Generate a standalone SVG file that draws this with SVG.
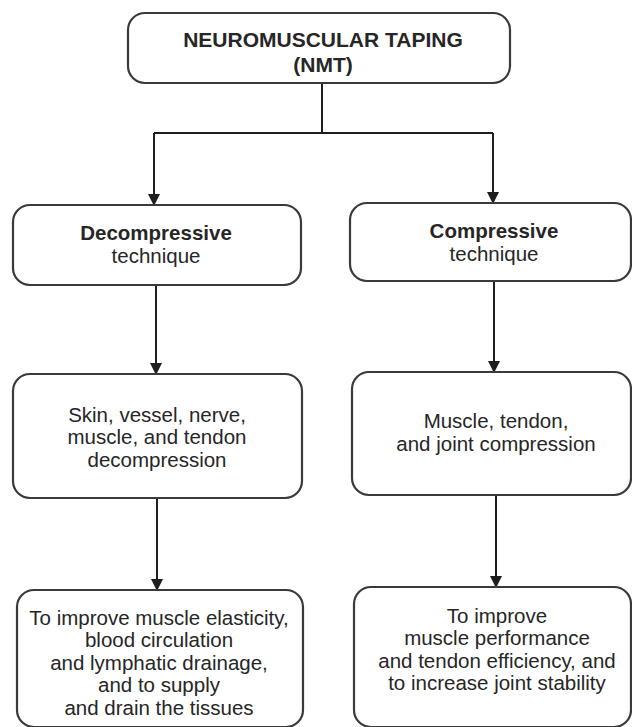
<svg xmlns="http://www.w3.org/2000/svg" width="632" height="727" viewBox="0 0 632 727">
  <defs>
    <marker id="arrow" markerWidth="12" markerHeight="12" refX="11" refY="6" orient="auto" markerUnits="userSpaceOnUse">
      <path d="M0,0 L12,6 L0,12 Z" fill="#1e1e1e"/>
    </marker>
    <style>
      .box { fill: #ffffff; stroke: #3a3a3a; stroke-width: 2.2; }
      .conn { fill: none; stroke: #1e1e1e; stroke-width: 2; }
      text { font-family: "Liberation Sans", Arial, sans-serif; fill: #262626; text-anchor: middle; }
      .title { font-size: 21px; font-weight: bold; }
      .head { font-size: 20.5px; font-weight: bold; }
      .body { font-size: 20.5px; }
    </style>
  </defs>
  <rect width="632" height="727" fill="#ffffff"/>

  <!-- connectors -->
  <g id="connectors">
    <path class="conn" d="M322,83 V133 M154,133 H493"/>
    <path class="conn" d="M154,133 V205" marker-end="url(#arrow)"/>
    <path class="conn" d="M493,133 V203" marker-end="url(#arrow)"/>
    <path class="conn" d="M156,285 V374" marker-end="url(#arrow)"/>
    <path class="conn" d="M494,281 V372" marker-end="url(#arrow)"/>
    <path class="conn" d="M157,498 V590" marker-end="url(#arrow)"/>
    <path class="conn" d="M496,495 V587" marker-end="url(#arrow)"/>
  </g>

  <!-- root -->
  <g id="nmt">
    <rect class="box" x="128" y="13" width="382" height="70" rx="17"/>
    <text class="title" x="323" y="47">NEUROMUSCULAR TAPING</text>
    <text class="title" x="323" y="72">(NMT)</text>
  </g>

  <!-- techniques -->
  <g id="decompressive">
    <rect class="box" x="13" y="205" width="288" height="80" rx="17"/>
    <text class="head" x="156" y="240">Decompressive</text>
    <text class="body" x="156" y="263">technique</text>
  </g>
  <g id="compressive">
    <rect class="box" x="350" y="203" width="281" height="78" rx="17"/>
    <text class="head" x="494" y="238">Compressive</text>
    <text class="body" x="494" y="261">technique</text>
  </g>

  <!-- effects -->
  <g id="decompression">
    <rect class="box" x="13" y="374" width="289" height="124" rx="17"/>
    <text class="body" x="157" y="422">Skin, vessel, nerve,</text>
    <text class="body" x="157" y="444">muscle, and tendon</text>
    <text class="body" x="157" y="467">decompression</text>
  </g>
  <g id="compression">
    <rect class="box" x="352" y="372" width="279" height="123" rx="17"/>
    <text class="body" x="496" y="428">Muscle, tendon,</text>
    <text class="body" x="496" y="451">and joint compression</text>
  </g>

  <!-- aims -->
  <g id="decompressive-aim">
    <rect class="box" x="17" y="590" width="286" height="137" rx="17"/>
    <text class="body" x="159" y="625">To improve muscle elasticity,</text>
    <text class="body" x="159" y="647">blood circulation</text>
    <text class="body" x="159" y="670">and lymphatic drainage,</text>
    <text class="body" x="159" y="692">and to supply</text>
    <text class="body" x="159" y="715">and drain the tissues</text>
  </g>
  <g id="compressive-aim">
    <rect class="box" x="354" y="587" width="277" height="140" rx="17"/>
    <text class="body" x="497" y="623">To improve</text>
    <text class="body" x="497" y="645">muscle performance</text>
    <text class="body" x="497" y="668">and tendon efficiency, and</text>
    <text class="body" x="497" y="690">to increase joint stability</text>
  </g>
</svg>
